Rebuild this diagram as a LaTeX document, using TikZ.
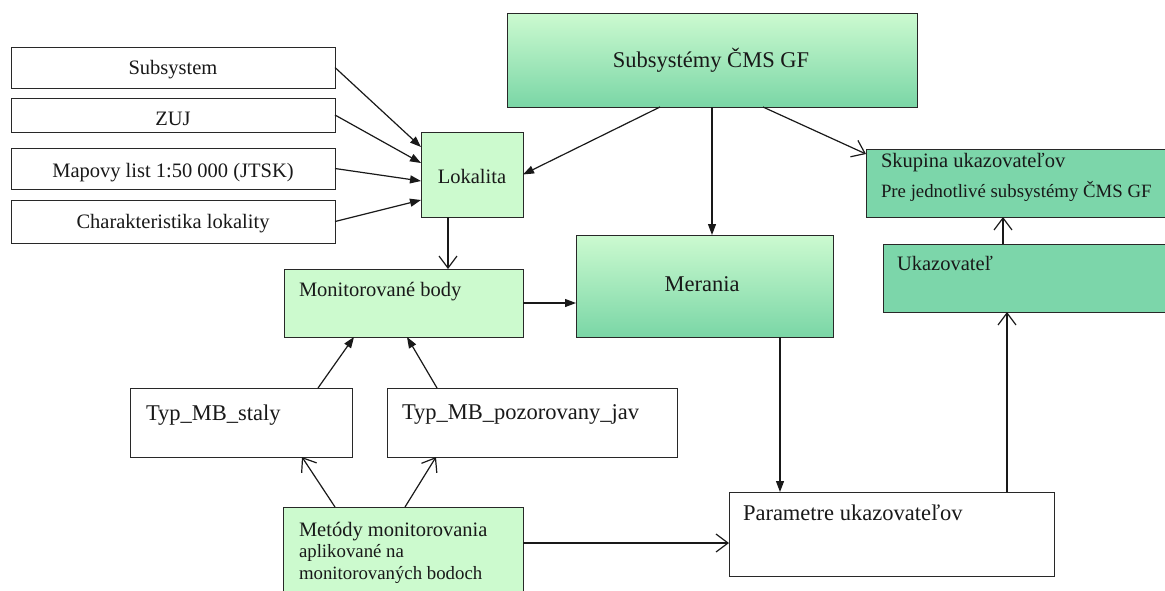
\documentclass[tikz,border=0pt]{standalone}
\usepackage{fontspec}
\setmainfont{Liberation Serif}
\usetikzlibrary{arrows.meta,calc}

\definecolor{lgreen}{RGB}{204,250,206}
\definecolor{tealg}{RGB}{124,214,170}
\definecolor{gradtop}{RGB}{204,250,208}
\definecolor{gradbot}{RGB}{122,214,166}
\definecolor{edge}{RGB}{40,40,40}

\tikzset{
  box/.style={rectangle, draw=edge, line width=1pt, inner sep=0pt, outer sep=0pt},
  plainbox/.style={box, fill=white},
  lightbox/.style={box, fill=lgreen},
  tealbox/.style={box, fill=tealg},
  gradbox/.style={box, top color=gradtop, bottom color=gradbot},
  txt/.style={inner sep=0pt, outer sep=0pt, text=black!90, font=\fontsize{20.5}{24}\selectfont},
  bigtxt/.style={inner sep=0pt, outer sep=0pt, text=black!90, font=\fontsize{22.5}{26}\selectfont},
  smalltxt/.style={inner sep=0pt, outer sep=0pt, text=black!90, font=\fontsize{18.8}{22}\selectfont},
  link/.style={line width=1.2pt, draw=black!90},
  fa/.style={link, -{Triangle[length=11pt,width=8pt]}},
  oa/.style={link, -{Straight Barb[length=12pt,width=18pt,line width=1.2pt]}},
}

\begin{document}
\begin{tikzpicture}[x=1pt,y=-1pt]
\useasboundingbox (0,0) rectangle (1165,590);

% source boxes on the left
\node[plainbox, minimum width=324, minimum height=41] (subs) at (173,67.5) {};
\node[plainbox, minimum width=324, minimum height=34] (zuj)  at (173,115) {};
\node[plainbox, minimum width=324, minimum height=41] (map)  at (173,168.5) {};
\node[plainbox, minimum width=324, minimum height=43] (char) at (173,221.5) {};
\node[txt, anchor=base] (subs-t) at (173,74)  {Subsystem};
\node[txt, anchor=base] (zuj-t)  at (173,125) {ZUJ};
\node[txt, anchor=base] (map-t)  at (173,177) {Mapovy list 1:50 000 (JTSK)};
\node[txt, anchor=base] (char-t) at (173,228) {Charakteristika lokality};

% main entities
\node[gradbox, minimum width=410, minimum height=94] (cms) at (712,60) {};
\node[bigtxt, anchor=base] (cms-t) at (711,67) {Subsystémy ČMS GF};

\node[lightbox, minimum width=102, minimum height=85] (lok) at (472,174.5) {};
\node[txt, anchor=base] (lok-t) at (472,183) {Lokalita};

\node[tealbox, minimum width=304, minimum height=68] (skup) at (1018,183) {};
\node[txt, anchor=base west] (skup-t1) at (881,167) {Skupina ukazovateľov};
\node[smalltxt, anchor=base west] (skup-t2) at (881,197) {Pre jednotlivé subsystémy ČMS GF};

\node[tealbox, minimum width=287, minimum height=68] (ukaz) at (1026.5,278) {};
\node[txt, anchor=base west] (ukaz-t) at (897,270) {Ukazovateľ};

\node[gradbox, minimum width=257, minimum height=102] (mer) at (704.5,286) {};
\node[bigtxt, anchor=base] (mer-t) at (702,291) {Merania};

\node[lightbox, minimum width=239, minimum height=68] (mon) at (403.5,303) {};
\node[txt, anchor=base west] (mon-t) at (299,296) {Monitorované body};

\node[plainbox, minimum width=222, minimum height=69] (typs) at (241,422.5) {};
\node[bigtxt, anchor=base west] (typs-t) at (146,420) {Typ\_MB\_staly};

\node[plainbox, minimum width=290, minimum height=69] (typp) at (532,422.5) {};
\node[bigtxt, anchor=base west] (typp-t) at (402,419) {Typ\_MB\_pozorovany\_jav};

\node[lightbox, minimum width=240, minimum height=93] (met) at (403,553.5) {};
\node[txt, anchor=base west] (met-t1) at (299,536) {Metódy monitorovania};
\node[smalltxt, anchor=base west] (met-t2) at (299,557) {aplikované na};
\node[smalltxt, anchor=base west] (met-t3) at (299,579) {monitorovaných bodoch};

\node[plainbox, minimum width=325, minimum height=84] (par) at (891.5,534) {};
\node[bigtxt, anchor=base west] (par-t) at (743,520) {Parametre ukazovateľov};

% connectors
\draw[fa] (subs.east) -- (lok.west |- 0,147);
\draw[fa] (zuj.east)  -- (lok.west |- 0,163);
\draw[fa] (map.east)  -- (lok.west |- 0,181);
\draw[fa] (char.east) -- (lok.west |- 0,200);

\draw[fa] (cms.south -| 660,0) -- (lok.east);
\draw[fa] (cms.south -| 712,0) -- (mer.north -| 712,0);
\draw[oa] (cms.south -| 763,0) -- (skup.west |- 0,154);

\draw[oa] (lok.south -| 448,0) -- (mon.north -| 448,0);
\draw[fa] (mon.east) -- (mer.west |- mon.east);
\draw[fa] (mer.south -| 780,0) -- (par.north -| 780,0);
\draw[oa] (par.north -| 1007,0) -- (ukaz.south -| 1007,0);
\draw[oa] (ukaz.north -| 1003,0) -- (skup.south -| 1003,0);

\draw[fa] (typs.north -| 318,0) -- (mon.south -| 354,0);
\draw[fa] (typp.north -| 437,0) -- (mon.south -| 407,0);
\draw[oa] (met.north -| 335,0) -- (typs.south -| 302,0);
\draw[oa] (met.north -| 405,0) -- (typp.south -| 436,0);
\draw[oa] (met.east |- 0,543) -- (par.west |- 0,543);
\end{tikzpicture}
\end{document}
